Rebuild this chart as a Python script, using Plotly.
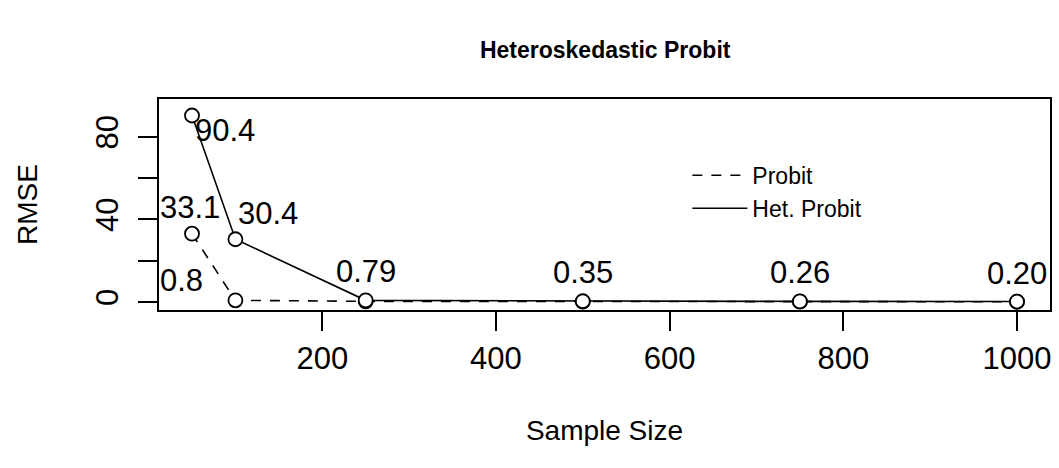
import plotly.graph_objects as go

sample_size = [50, 100, 250, 500, 750, 1000]
rmse_probit = [33.1, 0.8, 0.3, 0.2, 0.15, 0.1]
rmse_het_probit = [90.4, 30.4, 0.79, 0.35, 0.26, 0.20]

probit_labels = ["33.1", "0.8"]
het_labels = ["90.4", "30.4", "0.79", "0.35", "0.26", "0.20"]

y_tickvals = [0, 20, 40, 60, 80]
y_ticktext = ["0", "", "40", "", "80"]
x_tickvals = [200, 400, 600, 800, 1000]

FONT = "Liberation Sans, Arial, Helvetica, sans-serif"
NUM = 31
LAB = 28

fig = go.Figure()

marker = dict(symbol="circle", size=14, color="white", line=dict(color="black", width=1.8))

fig.add_trace(go.Scatter(x=sample_size, y=rmse_probit, mode="lines+markers",
                         line=dict(color="black", width=1.6, dash="10px,9px"),
                         marker=marker, showlegend=False))
fig.add_trace(go.Scatter(x=sample_size, y=rmse_het_probit, mode="lines+markers",
                         line=dict(color="black", width=1.6),
                         marker=marker, showlegend=False))

# legend entries (lines only)
fig.add_trace(go.Scatter(x=[None], y=[None], mode="lines", name="Probit",
                         line=dict(color="black", width=1.6, dash="10px,9px")))
fig.add_trace(go.Scatter(x=[None], y=[None], mode="lines", name="Het. Probit",
                         line=dict(color="black", width=1.6)))

ann = []
ann.append(dict(x=sample_size[0], y=rmse_het_probit[0], text=het_labels[0],
                xanchor="left", yanchor="top", xshift=1, yshift=5))
ann.append(dict(x=sample_size[1], y=rmse_het_probit[1], text=het_labels[1],
                xanchor="left", yanchor="bottom", xshift=1, yshift=6))
for i in range(2, 6):
    ann.append(dict(x=sample_size[i], y=rmse_het_probit[i], text=het_labels[i],
                    xanchor="center", yanchor="bottom", xshift=0, yshift=9))
ann.append(dict(x=sample_size[0], y=rmse_probit[0], text=probit_labels[0],
                xanchor="center", yanchor="bottom", xshift=-2, yshift=7))
ann.append(dict(x=sample_size[1], y=rmse_probit[1], text=probit_labels[1],
                xanchor="right", yanchor="bottom", xshift=-30, yshift=0))
for a in ann:
    a.update(showarrow=False, font=dict(family=FONT, size=NUM, color="black"))
    fig.add_annotation(**a)

fig.update_layout(
    width=1059, height=468,
    paper_bgcolor="white", plot_bgcolor="white",
    margin=dict(l=159, r=7, t=99, b=158),
    font=dict(family=FONT, color="black"),
    title=dict(text="<b>Heteroskedastic Probit</b>", x=0.5715, xanchor="center",
               y=0.893, yanchor="middle", font=dict(family=FONT, size=23, color="black")),
    legend=dict(x=0.593, y=0.74, xanchor="left", yanchor="top",
                bgcolor="rgba(0,0,0,0)", borderwidth=0,
                font=dict(family=FONT, size=23, color="black"),
                tracegroupgap=0, itemwidth=55),
    showlegend=True,
)

fig.update_xaxes(range=[12, 1038], tickvals=x_tickvals, ticks="outside", ticklen=19,
                 tickwidth=1.6, tickcolor="black", showline=True, linecolor="black",
                 linewidth=1.8, mirror=True, showgrid=False, zeroline=False,
                 ticklabelstandoff=1,
                 tickfont=dict(family=FONT, size=NUM, color="black"),
                 title=dict(text="Sample Size", font=dict(family=FONT, size=LAB, color="black"),
                            standoff=45))
fig.update_yaxes(range=[-3.9, 98.4], tickvals=y_tickvals, ticktext=y_ticktext,
                 tickangle=-90, ticks="outside", ticklen=19,
                 tickwidth=1.6, tickcolor="black", showline=True, linecolor="black",
                 linewidth=1.8, mirror=True, showgrid=False, zeroline=False,
                 ticklabelstandoff=8,
                 tickfont=dict(family=FONT, size=NUM, color="black"),
                 title=dict(text="RMSE", font=dict(family=FONT, size=LAB, color="black"),
                            standoff=44))

fig.write_html("out.html", config={"displayModeBar": False},
               post_script="document.body.style.margin='0px';")
